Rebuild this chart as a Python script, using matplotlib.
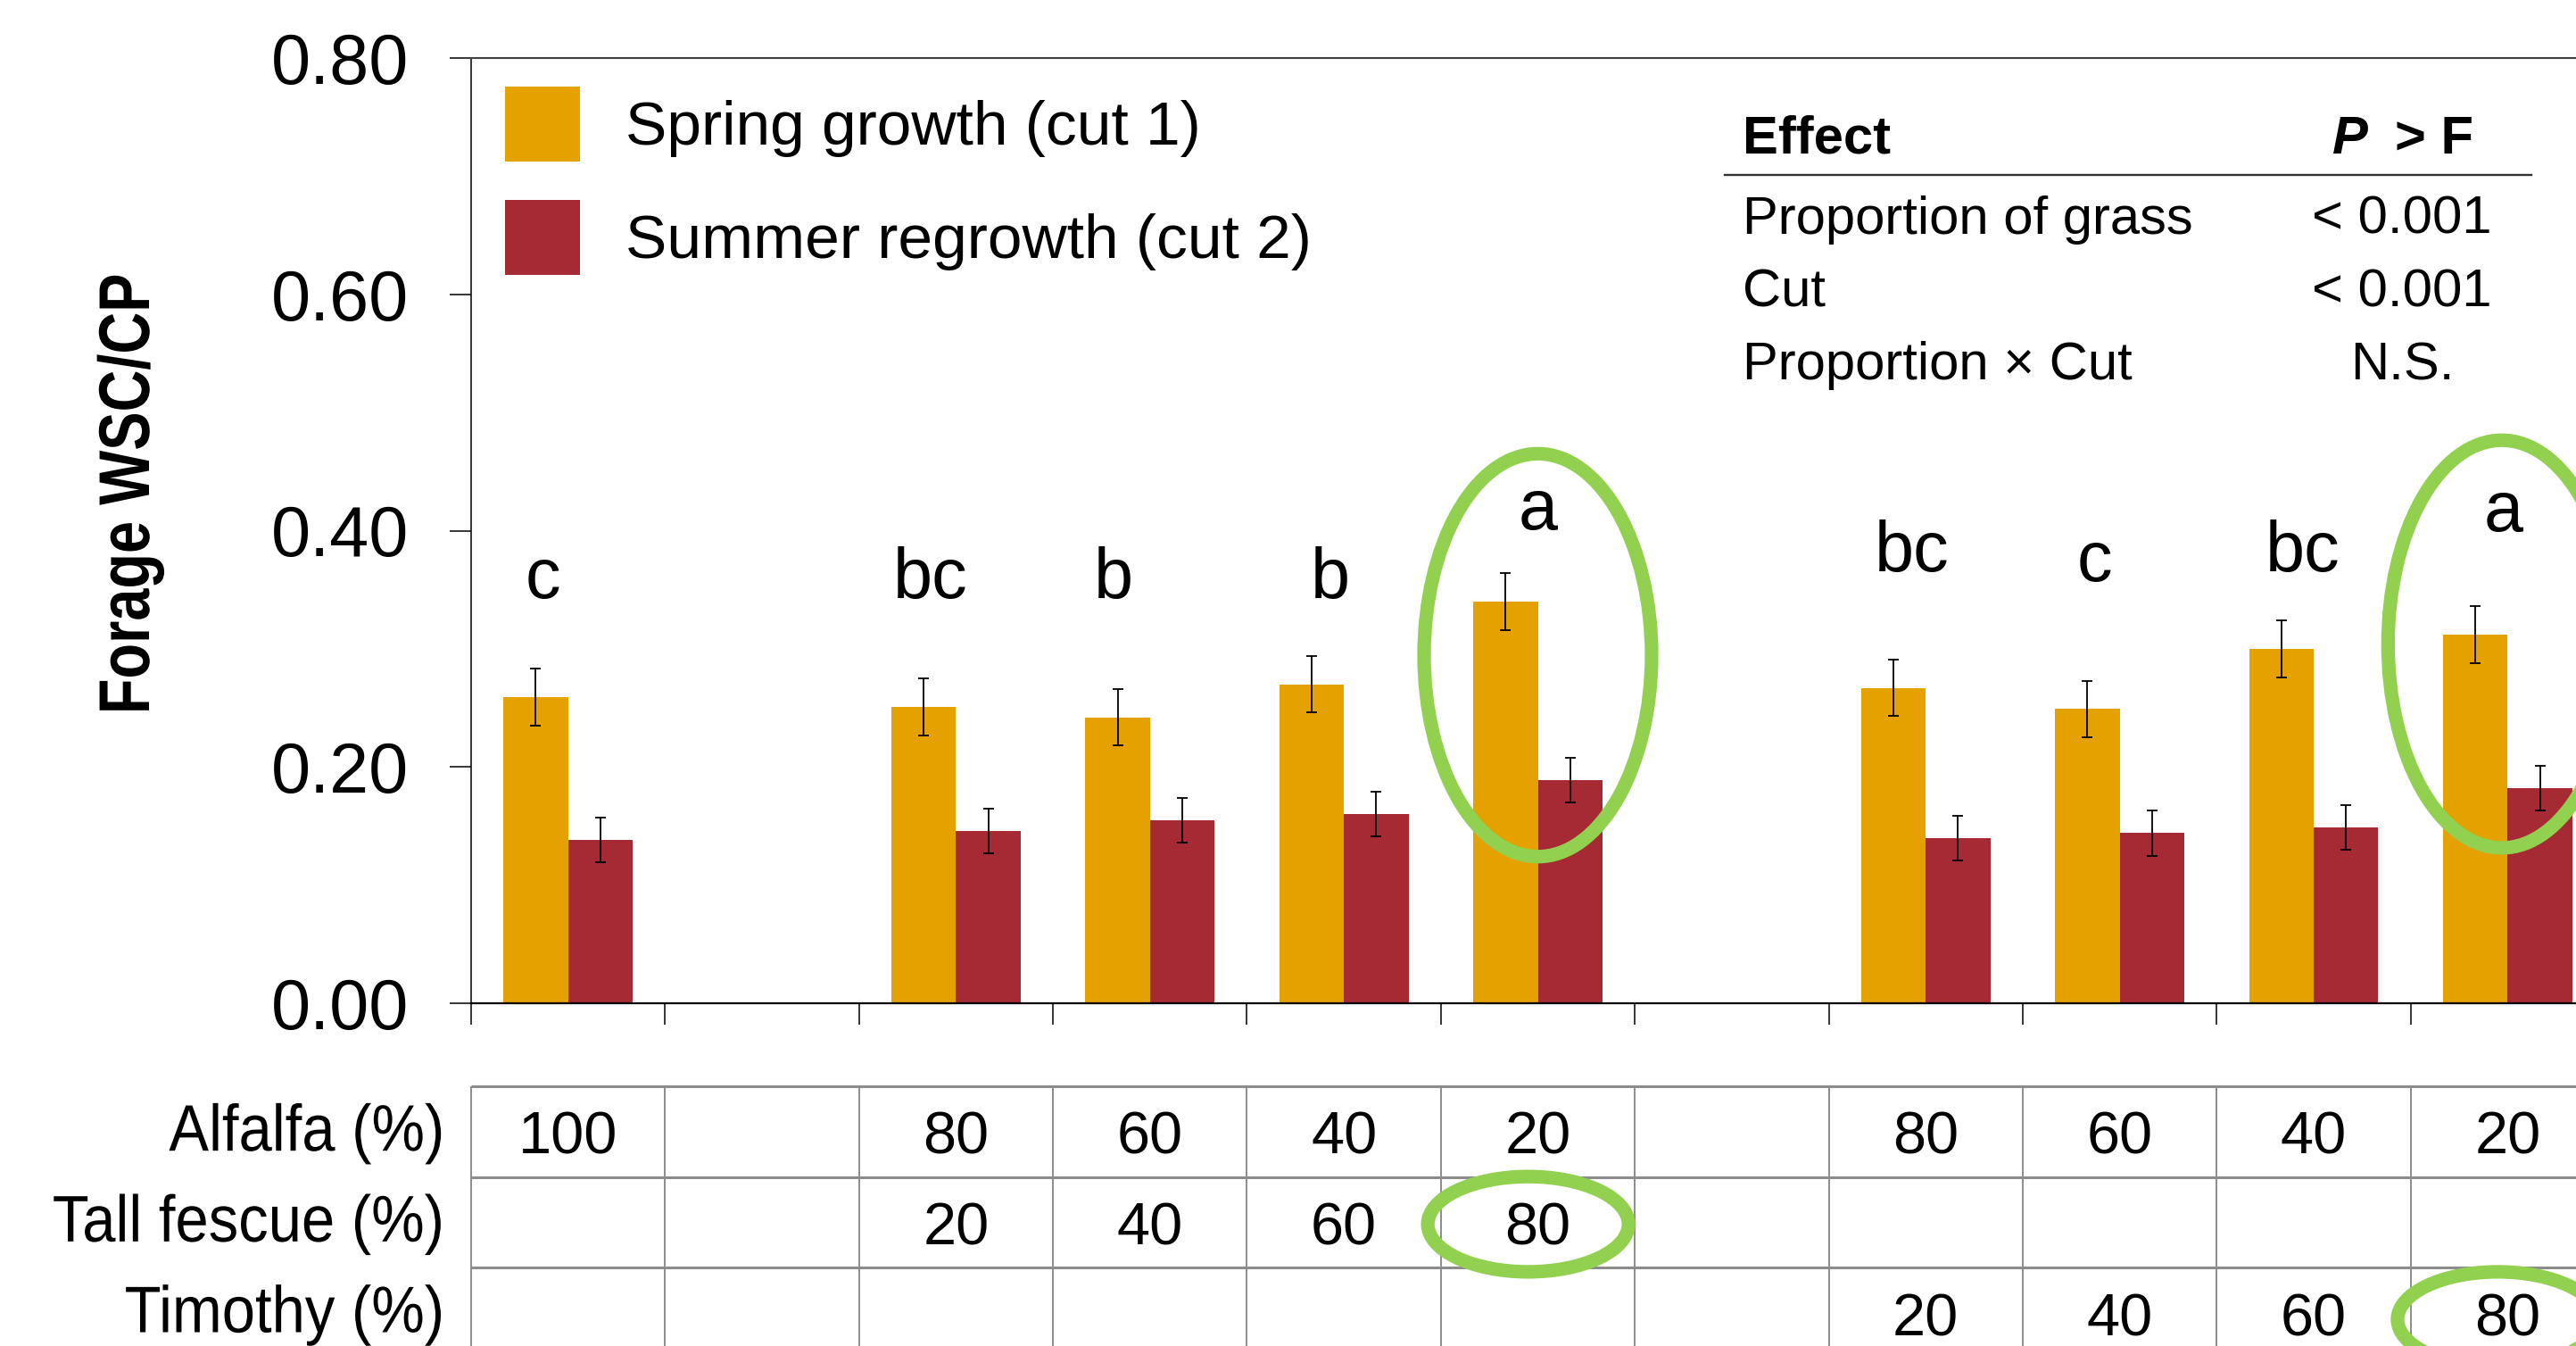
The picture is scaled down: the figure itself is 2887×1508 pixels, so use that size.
import numpy as np
import matplotlib.pyplot as plt
from matplotlib.patches import Ellipse
from matplotlib.patheffects import AbstractPathEffect
from matplotlib.transforms import Affine2D

# ---- data ----
alfalfa = ['100', '', '80', '60', '40', '20', '', '80', '60', '40', '20']
tall_fescue = ['', '', '20', '40', '60', '80', '', '', '', '', '']
timothy = ['', '', '', '', '', '', '', '20', '40', '60', '80']
row_names = ['Alfalfa (%)', 'Tall fescue (%)', 'Timothy (%)']

spring = [0.259, np.nan, 0.251, 0.242, 0.270, 0.340, np.nan, 0.267, 0.249, 0.300, 0.312]
spring_se = [0.024, np.nan, 0.024, 0.024, 0.024, 0.024, np.nan, 0.024, 0.024, 0.024, 0.024]
summer = [0.138, np.nan, 0.146, 0.155, 0.160, 0.189, np.nan, 0.140, 0.144, 0.149, 0.182]
summer_se = [0.019, np.nan, 0.019, 0.019, 0.019, 0.019, np.nan, 0.019, 0.019, 0.019, 0.019]
letters = ['c', '', 'bc', 'b', 'b', 'a', '', 'bc', 'c', 'bc', 'a']

effects = ['Proportion of grass', 'Cut', 'Proportion \u00d7 Cut']
p_values = ['< 0.001', '< 0.001', 'N.S.']

# ---- styling ----
W, H = 2887, 1508
YEL = '#E4A100'
RED = '#A62A33'
GREEN = '#92D050'
GRID = '#8c8c8c'
plt.rcParams['font.family'] = ['Liberation Sans', 'DejaVu Sans']


class Narrow(AbstractPathEffect):
    """Squeeze text horizontally (stand-in for Arial Narrow)."""
    def __init__(self, sx, anchor=0.5):
        super().__init__()
        self.sx = sx
        self.anchor = anchor

    def draw_path(self, renderer, gc, tpath, affine, rgbFace=None):
        ext = tpath.get_extents()
        x0 = ext.x0 + self.anchor * (ext.x1 - ext.x0)
        squeeze = Affine2D().translate(-x0, 0).scale(self.sx, 1).translate(x0, 0)
        renderer.draw_path(gc, tpath, squeeze + affine, rgbFace)


fig = plt.figure(figsize=(W / 100, H / 100), dpi=100)
ax = fig.add_axes([528 / W, 1 - 1124 / H, 2391 / W, (1124 - 65) / H])

n = len(alfalfa)
x = np.arange(n) + 0.5
bw = 1 / 3
spring = np.array(spring)
summer = np.array(summer)
m = ~np.isnan(spring)
ekw = dict(ecolor='black', elinewidth=1.3, capsize=4.3, capthick=1.3)

ax.bar(x[m] - bw / 2, spring[m], bw, color=YEL, label='Spring growth (cut 1)',
       yerr=np.array(spring_se)[m], error_kw=ekw)
ax.bar(x[m] + bw / 2, summer[m], bw, color=RED, label='Summer regrowth (cut 2)',
       yerr=np.array(summer_se)[m], error_kw=ekw)

# significance letters
label_dx = [-0.13, 0, -0.13, -0.19, -0.07, 0.0, 0, -0.07, -0.13, -0.055, -0.02]
label_y = [0.343, 0, 0.343, 0.343, 0.343, 0.401, 0, 0.366, 0.357, 0.366, 0.400]
for i, lab in enumerate(letters):
    if lab:
        ax.text(x[i] + label_dx[i], label_y[i], lab, ha='center', va='baseline',
                fontsize=57)

# green highlight ellipses
for cx, cy, w, h in [(5.5, 0.2946, 1.173, 0.341), (10.47, 0.304, 1.173, 0.345)]:
    ax.add_patch(Ellipse((cx, cy), w, h, fill=False, ec=GREEN, lw=11,
                         clip_on=False, zorder=5))

ax.set_xlim(0, n)
ax.set_ylim(0, 0.8)
ax.set_xticks(np.arange(n + 1))
ax.set_xticklabels([])
ax.set_yticks(np.arange(0, 0.81, 0.2))
ax.set_yticklabels([f'{v:.2f}' for v in np.arange(0, 0.81, 0.2)])
ax.tick_params(axis='x', direction='out', length=17, width=1.1)
ax.tick_params(axis='y', direction='out', length=17, width=1.1, pad=33,
               labelsize=57)
ax.spines['right'].set_visible(False)
ax.spines['top'].set_color('#404040')
ax.spines['top'].set_linewidth(1.5)
ax.spines['left'].set_linewidth(1.1)
ax.spines['bottom'].set_linewidth(1.6)

ax.legend(loc='upper left', bbox_to_anchor=(0.0159, 0.9698), borderaxespad=0,
          borderpad=0, frameon=False, fontsize=50, handlelength=1.21,
          handleheight=1.485, handletextpad=0.73, labelspacing=0.62)

fig.text(167 / W, 1 - 554 / H, 'Forage WSC/CP', rotation=90,
         rotation_mode='anchor', ha='center', va='baseline', fontsize=58,
         fontweight='bold', path_effects=[Narrow(0.805, 0.5)])

# ---- composition table below the bars ----
ax_t = fig.add_axes([528 / W, 1 - 1522 / H, 2391 / W, (1522 - 1217) / H])
ax_t.set_xlim(0, n)
ax_t.set_ylim(3, 0)
for s in ax_t.spines.values():
    s.set_visible(False)
ax_t.set_xticks([])
ax_t.set_yticks([])
ax_t.hlines([0, 1, 2, 3], 0, n, color=GRID, lw=2.2, clip_on=False)
ax_t.vlines(np.arange(n + 1), 0, 3, color=GRID, lw=1.4, clip_on=False)
for r, name in enumerate(row_names):
    ax_t.text(-0.133, r + 0.71, name, ha='right', va='baseline', fontsize=53,
              path_effects=[Narrow(0.91, 1.0)], clip_on=False)
for r, row in enumerate([alfalfa, tall_fescue, timothy]):
    for i, val in enumerate(row):
        if val:
            ax_t.text(x[i], r + 0.745, val, ha='center', va='baseline',
                      fontsize=48)
for cx, cy in [(5.45, 1.52), (10.45, 2.57)]:
    ax_t.add_patch(Ellipse((cx, cy), 1.035, 1.05, fill=False, ec=GREEN, lw=11,
                           clip_on=False, zorder=5))

# ---- ANOVA summary ----
fig.text(1953 / W, 1 - 172 / H, 'Effect', fontsize=43, fontweight='bold',
         va='baseline')
fig.text(2614 / W, 1 - 172 / H, 'P', fontsize=43, fontweight='bold',
         fontstyle='italic', va='baseline')
fig.text(2684 / W, 1 - 172 / H, '> F', fontsize=43, fontweight='bold',
         va='baseline')
fig.add_artist(plt.Line2D([1933 / W, 2837 / W], [1 - 196 / H, 1 - 196 / H],
                          color='#333333', lw=1.7))
for k, (eff, p) in enumerate(zip(effects, p_values)):
    yb = 1 - (262 + 81.5 * k) / H
    fig.text(1953 / W, yb, eff, fontsize=43, va='baseline')
    fig.text(2692 / W, yb, p, fontsize=43, va='baseline', ha='center')

fig.savefig('out.png', dpi=100)
